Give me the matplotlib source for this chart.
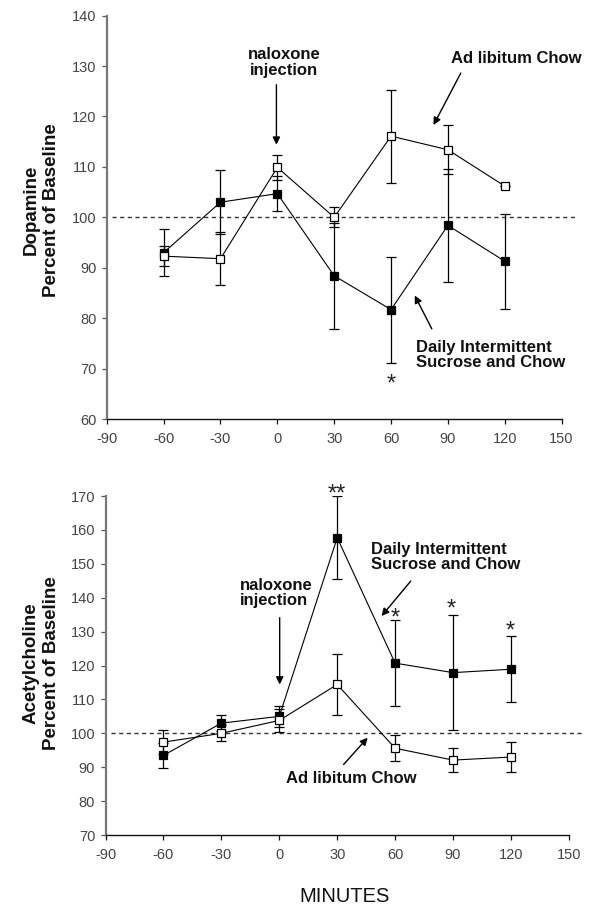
import matplotlib
matplotlib.use("Agg")
import matplotlib.pyplot as plt

plt.rcParams['font.family'] = ['Liberation Sans', 'DejaVu Sans']

minutes = [-60, -30, 0, 30, 60, 90, 120]

# Dopamine (top panel)
da_sucrose = [93.0, 103.0, 104.7, 88.4, 81.7, 98.4, 91.3]
da_sucrose_err = [4.7, 6.3, 3.4, 10.5, 10.5, 11.2, 9.4]
da_chow = [92.3, 91.8, 109.9, 100.0, 116.1, 113.4, 106.2]
da_chow_err = [2.0, 5.2, 2.4, 2.0, 9.2, 4.9, 0.0]

# Acetylcholine (bottom panel)
ach_sucrose = [93.5, 103.0, 105.0, 157.7, 120.7, 117.9, 118.9]
ach_sucrose_err = [3.6, 2.3, 3.2, 12.3, 12.6, 16.9, 9.8]
ach_chow = [97.4, 100.0, 103.8, 114.4, 95.6, 92.1, 93.0]
ach_chow_err = [3.5, 2.4, 3.5, 9.0, 3.8, 3.6, 4.3]

x_ticks = [-90, -60, -30, 0, 30, 60, 90, 120, 150]
da_ticks = [60, 70, 80, 90, 100, 110, 120, 130, 140]
ach_ticks = [70, 80, 90, 100, 110, 120, 130, 140, 150, 160, 170]

fig = plt.figure(figsize=(6.0, 9.17), dpi=100)
ax1 = fig.add_axes([0.178, 0.543, 0.758, 0.440])
ax2 = fig.add_axes([0.176, 0.0894, 0.772, 0.3697])

ann_font = dict(fontsize=12, fontweight='bold', color='#111111')
arrow = dict(arrowstyle='-|>', color='black', lw=1.0, mutation_scale=11,
             shrinkA=0, shrinkB=0)


def style_axes(ax, yticks):
    ax.set_xlim(-90, 150)
    ax.set_ylim(yticks[0], yticks[-1])
    ax.set_xticks(x_ticks)
    ax.set_yticks(yticks)
    ax.set_xticklabels([str(v) for v in x_ticks])
    ax.set_yticklabels([str(v) for v in yticks])
    for s in ['top', 'right']:
        ax.spines[s].set_visible(False)
    ax.spines['left'].set_color('#777777')
    ax.spines['left'].set_linewidth(1.6)
    ax.spines['bottom'].set_color('#111111')
    ax.spines['bottom'].set_linewidth(1.0)
    ax.tick_params(axis='x', direction='out', length=3.5, width=0.9,
                   pad=6, labelsize=10.5, colors='#111111', labelcolor='#444444')
    ax.tick_params(axis='y', direction='out', length=3.5, width=0.9,
                   pad=4, labelsize=10.5, colors='#555555', labelcolor='#444444')
    ax.plot([-87, 157], [100, 100], ls=(0, (3, 2.5)), color='#333333',
            lw=1.0, clip_on=False, zorder=1)


def draw_series(ax, y, err, filled):
    ax.errorbar(minutes, y, yerr=err, fmt='-', color='black', lw=0.8,
                elinewidth=0.9, capsize=3.3, capthick=0.9, zorder=3 if filled else 4,
                marker='s', markersize=5.4,
                markerfacecolor='black' if filled else 'white',
                markeredgecolor='black', markeredgewidth=0.9)


def star(ax, x, y, s):
    # y is the visual centre of the asterisk glyph
    ax.annotate(s, xy=(x, y), xytext=(0, -9.5), textcoords='offset points',
                ha='center', va='baseline', fontsize=17, color='#222222',
                annotation_clip=False)


# Top panel
style_axes(ax1, da_ticks)
draw_series(ax1, da_sucrose, da_sucrose_err, True)
draw_series(ax1, da_chow, da_chow_err, False)
ax1.text(3.6, 130.7, 'naloxone\ninjection', ha='center', va='center',
         linespacing=1.05, **ann_font)
ax1.annotate('', xy=(-0.5, 114.4), xytext=(-0.5, 126.3), arrowprops=arrow)
ax1.text(126.1, 131.4, 'Ad libitum Chow', ha='center', va='center', **ann_font)
ax1.annotate('', xy=(82.4, 118.3), xytext=(96.8, 128.6), arrowprops=arrow)
ax1.text(73.4, 72.7, 'Daily Intermittent\nSucrose and Chow', ha='left',
         va='center', linespacing=1.05, **ann_font)
ax1.annotate('', xy=(72.5, 84.5), xytext=(81.5, 77.9), arrowprops=arrow)
star(ax1, 60, 68.3, '*')

# Bottom panel
style_axes(ax2, ach_ticks)
draw_series(ax2, ach_sucrose, ach_sucrose_err, True)
draw_series(ax2, ach_chow, ach_chow_err, False)
ax2.text(-20.3, 141.4, 'naloxone\ninjection', ha='left', va='center',
         linespacing=1.05, **ann_font)
ax2.annotate('', xy=(0.2, 114.4), xytext=(0.2, 134.1), arrowprops=arrow)
ax2.text(47.6, 152.0, 'Daily Intermittent\nSucrose and Chow', ha='left',
         va='center', linespacing=1.05, **ann_font)
ax2.annotate('', xy=(53.0, 134.6), xytext=(68.1, 144.9), arrowprops=arrow)
ax2.text(37.3, 86.6, 'Ad libitum Chow', ha='center', va='center', **ann_font)
ax2.annotate('', xy=(45.8, 98.7), xytext=(33.3, 90.8), arrowprops=arrow)
for sx, sy, s in [(29.7, 172.5, '**'), (60.1, 136.1, '*'),
                  (89.2, 138.6, '*'), (119.6, 132.0, '*')]:
    star(ax2, sx, sy, s)

# Y labels
fig.text(0.069, 1 - 210 / 917, 'Dopamine\nPercent of Baseline', rotation=90,
         ha='center', va='center', multialignment='center',
         fontsize=13.5, fontweight='bold', linespacing=1.3, color='#111111')
fig.text(0.069, 1 - 663 / 917, 'Acetylcholine\nPercent of Baseline', rotation=90,
         ha='center', va='center', multialignment='center',
         fontsize=13.5, fontweight='bold', linespacing=1.3, color='#111111')
fig.text(345 / 600, 1 - 897 / 917, 'MINUTES', ha='center', va='center',
         fontsize=14.5, color='#111111')

fig.savefig('out.png', dpi=100)
